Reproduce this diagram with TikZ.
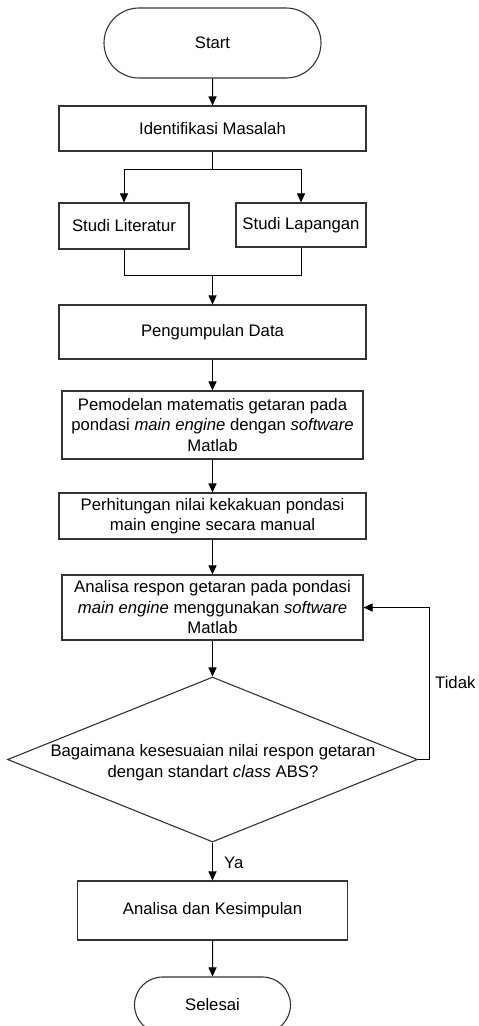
\documentclass[tikz,border=0pt]{standalone}
\usepackage{fontspec}
\setmainfont{Liberation Sans}
\usetikzlibrary{shapes.misc,shapes.geometric,arrows.meta}

\tikzset{
  base/.style={font=\fontsize{16.7}{20.5}\selectfont},
  process/.style={base, draw=black!80, line width=1.1pt, rectangle, inner sep=0pt,
    align=center},
  terminal/.style={base, draw=black!80, line width=1.1pt, rounded rectangle, inner sep=0pt},
  decision/.style={draw=black!80, line width=1.1pt, diamond, inner sep=0pt},
  flow/.style={draw=black, line width=1pt, -{Triangle[length=9pt,width=8pt]}},
  link/.style={draw=black, line width=1pt},
  label/.style={base, inner sep=0pt}
}

\begin{document}
\begin{tikzpicture}[x=1pt,y=-1pt]
  \clip (0,0) rectangle (479,1026);
  \fill[white] (0,0) rectangle (479,1026);

  % terminals and process steps
  \node[terminal, minimum width=217pt, minimum height=70pt] (start) at (212.5,43) {Start};
  \node[process, minimum width=307pt, minimum height=45pt] (ident) at (212.5,128.5) {Identifikasi Masalah};
  \node[process, minimum width=130pt, minimum height=46pt] (lit) at (124,226) {Studi Literatur};
  \node[process, minimum width=130pt, minimum height=44pt] (lap) at (301,225) {Studi Lapangan};
  \node[process, minimum width=307pt, minimum height=54pt] (peng) at (212.5,332) {Pengumpulan Data};
  \node[process, minimum width=301pt, minimum height=68pt] (pemo) at (212.5,425)
    {Pemodelan matematis getaran pada\\pondasi \textit{main engine} dengan \textit{software}\\Matlab};
  \node[process, minimum width=307pt, minimum height=46pt] (perh) at (212.5,516)
    {Perhitungan nilai kekakuan pondasi\\main engine secara manual};
  \node[process, minimum width=301pt, minimum height=65pt] (anal) at (212.5,607.5)
    {Analisa respon getaran pada pondasi\\\textit{main engine} menggunakan \textit{software}\\Matlab};

  % decision
  \node[decision, minimum width=410pt, minimum height=165pt] (dec) at (212.5,759.5) {};
  \node[label, align=center] (dectext) at (213,762.5)
    {Bagaimana kesesuaian nilai respon getaran\\dengan standart \textit{class} ABS?};

  \node[process, minimum width=270pt, minimum height=59pt] (kes) at (212.5,910.5) {Analisa dan Kesimpulan};
  \node[terminal, minimum width=156pt, minimum height=56pt] (sel) at (212.5,1005) {Selesai};

  % branch and merge points
  \coordinate (split) at (212.5,169);
  \coordinate (merge) at (212.5,275);

  % connectors
  \draw[flow] (start) -- (ident);
  \draw[link] (ident) -- (split);
  \draw[flow] (split) -| (lit.north);
  \draw[flow] (split) -| (lap.north);
  \draw[link] (lit.south) |- (merge);
  \draw[link] (lap.south) |- (merge);
  \draw[flow] (merge) -- (peng);
  \draw[flow] (peng) -- (pemo);
  \draw[flow] (pemo) -- (perh);
  \draw[flow] (perh) -- (anal);
  \draw[flow] (anal) -- (dec.north);
  \draw[flow] (dec.south) -- (kes);
  \draw[flow] (kes) -- (sel);
  \draw[flow] (dec.east) -- ++(11,0) coordinate (back) |- (anal.east);

  % branch labels
  \node[label, anchor=west] (ya) at (224,863) {Ya};
  \node[label, anchor=west] (tidak) at (435,683) {Tidak};
\end{tikzpicture}
\end{document}
